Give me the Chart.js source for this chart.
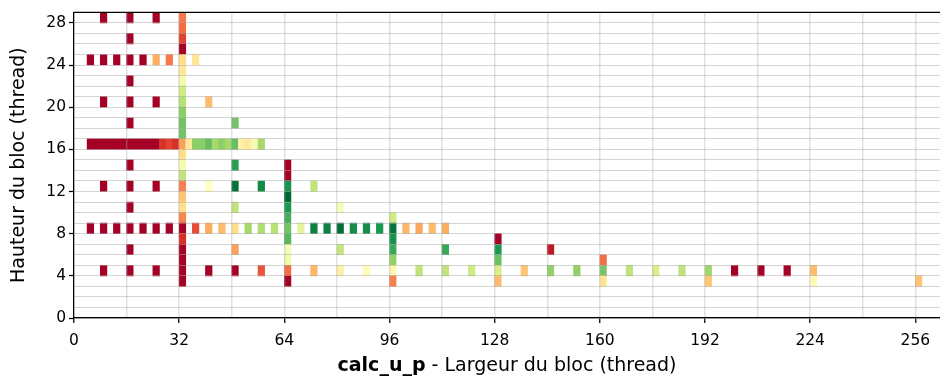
<!DOCTYPE html>
<html>
<head>
<meta charset="utf-8">
<title>calc_u_p - taille de bloc</title>
<script src="https://cdn.jsdelivr.net/npm/chart.js@4.4.1/dist/chart.umd.min.js"></script>
<style>
    html, body { margin: 0; padding: 0; background: #fff; }
    canvas { display: block; }
</style>
</head>
<body>
<canvas id="blocs" width="940" height="380"></canvas>
<script>
// ── Data: one entry per block height ─────────────────────────
// widths[i] / scores[i] list the tested block widths for heights[i]
// score is normalised perf (0 = slowest, 1 = fastest)
const heights = [28, 27, 26, 25, 24, 23, 22, 21, 20, 19, 18, 17, 16, 15, 14, 13, 12, 11, 10, 9, 8, 7, 6, 5, 4, 3];

const widths = [
    [8, 16, 24, 32],
    [32],
    [16, 32],
    [32],
    [4, 8, 12, 16, 20, 24, 28, 32, 36],
    [32],
    [16, 32],
    [32],
    [8, 16, 24, 32, 40],
    [32],
    [16, 32, 48],
    [32],
    [4, 6, 8, 10, 12, 14, 16, 18, 20, 22, 24, 26, 28, 30, 32, 34, 36, 38, 40, 42, 44, 46, 48, 50, 52, 54, 56],
    [32],
    [16, 32, 48, 64],
    [32, 64],
    [8, 16, 24, 32, 40, 48, 56, 64, 72],
    [32, 64],
    [16, 32, 48, 64, 80],
    [32, 64, 96],
    [4, 8, 12, 16, 20, 24, 28, 32, 36, 40, 44, 48, 52, 56, 60, 64, 68, 72, 76, 80, 84, 88, 92, 96, 100, 104, 108, 112],
    [32, 64, 96, 128],
    [16, 32, 48, 64, 80, 96, 112, 128, 144],
    [32, 64, 96, 128, 160],
    [8, 16, 24, 32, 40, 48, 56, 64, 72, 80, 88, 96, 104, 112, 120, 128, 136, 144, 152, 160, 168, 176, 184, 192, 200, 208, 216, 224],
    [32, 64, 96, 128, 160, 192, 224, 256]
];

const scores = [
    [0, 0, 0, 0.22],
    [0.20],
    [0, 0.13],
    [0],
    [0, 0, 0, 0, 0, 0.30, 0.22, 0.40, 0.42],
    [0.42],
    [0, 0.53],
    [0.62],
    [0, 0, 0, 0.67, 0.33],
    [0.74],
    [0, 0.78, 0.78],
    [0.78],
    [0, 0, 0, 0, 0, 0, 0, 0, 0, 0, 0, 0.10, 0.13, 0.10, 0.28, 0.43, 0.74, 0.74, 0.80, 0.70, 0.74, 0.70, 0.80, 0.45, 0.43, 0.52, 0.70],
    [0.40],
    [0, 0.53, 0.88, 0],
    [0.65, 0],
    [0, 0, 0, 0.23, 0.50, 0.98, 0.93, 0.91, 0.65],
    [0.345, 1.0],
    [0, 0.40, 0.65, 0.90, 0.52],
    [0.24, 0.84, 0.62],
    [0, 0, 0, 0, 0, 0, 0, 0, 0.15, 0.30, 0.33, 0.40, 0.70, 0.68, 0.66, 0.78, 0.57, 0.95, 0.95, 0.99, 0.92, 0.92, 0.90, 0.98, 0.32, 0.29, 0.33, 0.30],
    [0.10, 0.82, 0.91, 0],
    [0, 0, 0.28, 0.52, 0.64, 0.86, 0.86, 0.90, 0.05],
    [0, 0.53, 0.73, 0.79, 0.20],
    [0, 0, 0, 0, 0, 0, 0.16, 0.20, 0.32, 0.45, 0.49, 0.47, 0.65, 0.65, 0.62, 0.60, 0.345, 0.73, 0.73, 0.77, 0.65, 0.60, 0.65, 0.71, 0, 0, 0, 0.33],
    [0, 0, 0.23, 0.33, 0.42, 0.345, 0.48, 0.34]
];

const xTicks = [0, 32, 64, 96, 128, 160, 192, 224, 256];
const yTicks = [0, 4, 8, 12, 16, 20, 24, 28];

// ── RdYlGn colormap ──────────────────────────────────────────
const RDYLGN = ['#a50026', '#d73027', '#f46d43', '#fdae61', '#fee08b', '#ffffbf',
                '#d9ef8b', '#a6d96a', '#66bd63', '#1a9850', '#006837'];

function hexToRgb(h) {
    const n = parseInt(h.slice(1), 16);
    return [(n >> 16) & 255, (n >> 8) & 255, n & 255];
}

function rdylgn(t) {
    t = Math.max(0, Math.min(1, t));
    const pos = t * (RDYLGN.length - 1);
    const i = Math.min(Math.floor(pos), RDYLGN.length - 2);
    const f = pos - i;
    const a = hexToRgb(RDYLGN[i]), b = hexToRgb(RDYLGN[i + 1]);
    const c = a.map((v, k) => Math.round(v + (b[k] - v) * f));
    return `rgb(${c[0]},${c[1]},${c[2]})`;
}

// ── Flatten into floating bars: each cell covers [w, w+2] x [h, h+1] ──
const cells = [];
const cellScore = [];
heights.forEach((h, r) => {
    widths[r].forEach((w, k) => {
        cells.push({ x: w + 1, y: [h, h + 1] });
        cellScore.push(scores[r][k]);
    });
});

const FONT = "'DejaVu Sans', sans-serif";
const TITLE_SIZE = 19;

// top spine + bold/regular x title
const framePlugin = {
    id: 'frame',
    afterDraw(chart) {
        const { ctx, chartArea: a } = chart;
        ctx.save();
        ctx.strokeStyle = '#000';
        ctx.lineWidth = 1.25;
        ctx.beginPath();
        ctx.moveTo(a.left, a.top);
        ctx.lineTo(a.right, a.top);
        ctx.stroke();

        const bold = 'calc_u_p';
        const rest = ' - Largeur du bloc (thread)';
        ctx.fillStyle = '#000';
        ctx.textBaseline = 'middle';
        ctx.font = `bold ${TITLE_SIZE}px ${FONT}`;
        const wb = ctx.measureText(bold).width;
        ctx.font = `${TITLE_SIZE}px ${FONT}`;
        const wr = ctx.measureText(rest).width;
        const x0 = (a.left + a.right) / 2 - (wb + wr) / 2;
        const y = 366;
        ctx.font = `bold ${TITLE_SIZE}px ${FONT}`;
        ctx.textAlign = 'left';
        ctx.fillText(bold, x0, y);
        ctx.font = `${TITLE_SIZE}px ${FONT}`;
        ctx.fillText(rest, x0 + wb, y);
        ctx.restore();
    }
};

new Chart(document.getElementById('blocs'), {
    type: 'bar',
    data: {
        datasets: [{
            data: cells,
            backgroundColor: (c) => rdylgn(cellScore[c.dataIndex]),
            borderWidth: 0,
            barPercentage: 1,
            categoryPercentage: 1
        }]
    },
    options: {
        responsive: false,
        animation: false,
        layout: { padding: { top: 6, right: 0, bottom: 0, left: 0 } },
        plugins: {
            legend: { display: false },
            tooltip: { enabled: false }
        },
        scales: {
            x: {
                type: 'linear',
                offset: false,
                min: 0,
                max: 263.5,
                afterFit: (s) => { s.height = 62; },
                ticks: {
                    stepSize: 16,
                    includeBounds: false,
                    autoSkip: false,
                    maxRotation: 0,
                    padding: 9,
                    color: '#000',
                    font: { family: FONT, size: 15.5 },
                    callback: (v) => xTicks.includes(v) ? String(v) : ''
                },
                grid: {
                    offset: false,
                    z: 1,
                    color: 'rgba(170,170,170,0.35)',
                    lineWidth: 1.5,
                    tickLength: 5,
                    tickWidth: 1.25,
                    tickColor: (c) => xTicks.includes(c.tick.value) ? '#000' : 'rgba(0,0,0,0)'
                },
                border: { display: true, color: '#000', width: 1.25, z: 2 }
            },
            y: {
                type: 'linear',
                min: 0,
                max: 29,
                afterFit: (s) => { s.width = 74; },
                ticks: {
                    stepSize: 1,
                    autoSkip: false,
                    padding: 3,
                    color: '#000',
                    font: { family: FONT, size: 15.5 },
                    callback: (v) => yTicks.includes(v) ? String(v) : ''
                },
                grid: {
                    z: 1,
                    color: 'rgba(170,170,170,0.5)',
                    lineWidth: 1,
                    tickLength: 5,
                    tickWidth: 1.25,
                    tickColor: (c) => yTicks.includes(c.tick.value) ? '#000' : 'rgba(0,0,0,0)'
                },
                border: { display: true, color: '#000', width: 1.25, z: 2 },
                title: {
                    display: true,
                    text: 'Hauteur du bloc (thread)',
                    color: '#000',
                    font: { family: FONT, size: TITLE_SIZE },
                    padding: { top: 8, bottom: 0 }
                }
            }
        }
    },
    plugins: [framePlugin]
});
</script>
</body>
</html>
